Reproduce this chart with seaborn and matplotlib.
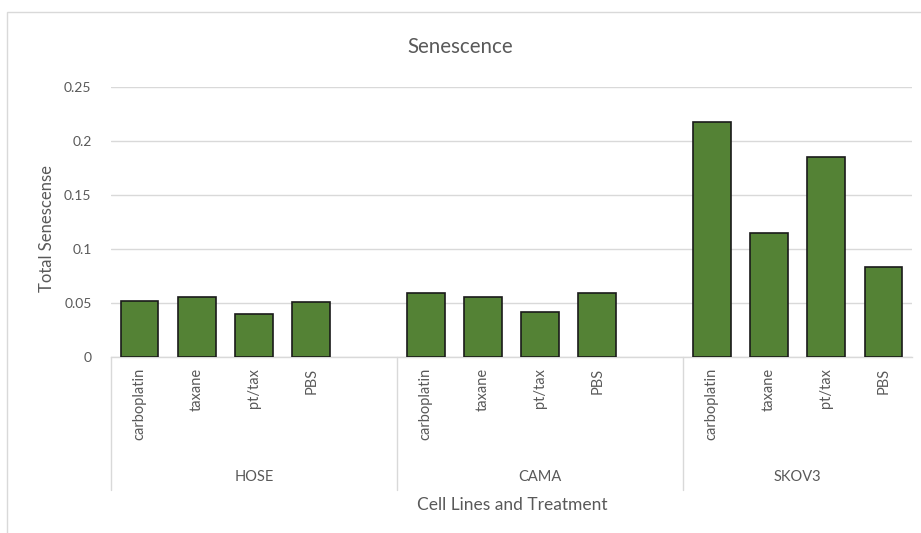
import pandas as pd
import matplotlib.pyplot as plt
import matplotlib.transforms as mtransforms
from matplotlib.patches import Rectangle
import seaborn as sns

# Data
cell_lines = ['HOSE', 'CAMA', 'SKOV3']
treatments = ['carboplatin', 'taxane', 'pt/tax', 'PBS']
hose = [0.052, 0.056, 0.040, 0.051]
cama = [0.059, 0.056, 0.042, 0.059]
skov3 = [0.218, 0.115, 0.185, 0.083]

rows = []
for g, (line, vals) in enumerate(zip(cell_lines, [hose, cama, skov3])):
    for i, (t, v) in enumerate(zip(treatments, vals)):
        # Excel layout: one blank slot between cell-line groups
        rows.append({'cell_line': line, 'treatment': t, 'slot': g * 5 + i, 'value': v})
df = pd.DataFrame(rows)

sns.set_theme(style='white')
plt.rcParams['font.family'] = ['Lato', 'DejaVu Sans']
text_col = '#595959'
grid_col = '#d9d9d9'

fig = plt.figure(figsize=(9.21, 5.33), dpi=100)
ax = fig.add_axes([111 / 921, 1 - 357 / 533, 801 / 921, 270 / 533])

sns.barplot(data=df, x='slot', y='value', native_scale=True, color='#548235',
            saturation=1, width=0.66, edgecolor='#1a1a1a', linewidth=1.2, ax=ax, zorder=3)

ax.set_xlim(-0.5, 13.5)
ax.set_ylim(0, 0.25)
ax.set_yticks([0, 0.05, 0.1, 0.15, 0.2, 0.25])
ax.set_yticklabels(['0', '0.05', '0.1', '0.15', '0.2', '0.25'])
ax.yaxis.grid(True, color=grid_col, linewidth=1, zorder=0)
ax.set_axisbelow(True)
for s in ['top', 'right', 'left']:
    ax.spines[s].set_visible(False)
ax.spines['bottom'].set_color(grid_col)
ax.spines['bottom'].set_linewidth(1)

ax.set_xticks(df['slot'])
ax.set_xticklabels(df['treatment'], rotation=90)
ax.tick_params(axis='x', length=0, pad=8, labelsize=10.5, labelcolor=text_col)
ax.tick_params(axis='y', length=0, pad=14, labelsize=10, labelcolor=text_col)
ax.set_xlabel('')
ax.set_ylabel('')

# group labels and dividers below the axis
trans = mtransforms.blended_transform_factory(ax.transData, fig.transFigure)
y_top = 1 - 357 / 533
y_bot = 1 - 490 / 533
for x in [-0.5, 4.5, 9.5]:
    ax.plot([x, x], [y_top, y_bot], transform=trans, color=grid_col, lw=1, clip_on=False)
for g, line in enumerate(cell_lines):
    start = g * 5 - 0.5
    end = min(g * 5 + 4.5, 13.5)
    ax.text((start + end) / 2, 1 - 477 / 533, line, transform=trans, ha='center',
            va='center', fontsize=10.5, color=text_col)

fig.text(0.5, 1 - 47 / 533, 'Senescence', ha='center', va='center', fontsize=14.8, color=text_col)
fig.text(47 / 921, 1 - 228 / 533, 'Total Senescense', rotation=90, ha='center',
         va='center', fontsize=12, color=text_col)
fig.text(512 / 921, 1 - 505 / 533, 'Cell Lines and Treatment', ha='center', va='center',
         fontsize=12.5, color=text_col)

# chart area border
fig.patches.append(Rectangle((7 / 921, -0.1), 1.1, 1 - 12 / 533 + 0.1, transform=fig.transFigure,
                             fill=False, edgecolor=grid_col, linewidth=1))

fig.savefig('out.png', dpi=100)
plt.close()
